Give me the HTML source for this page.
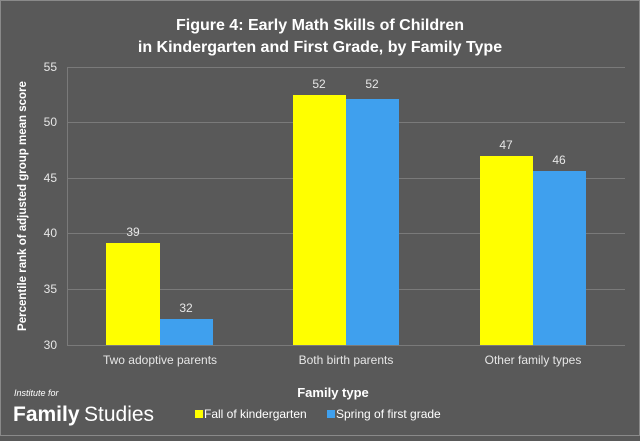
<!DOCTYPE html>
<html><head><style>
body{margin:0;background:#595959;}
svg text{font-family:"Liberation Sans",sans-serif;}
</style></head><body>
<svg width="640" height="436" xmlns="http://www.w3.org/2000/svg">
<rect x="0" y="0" width="640" height="436" fill="#595959"/>
<rect x="0.5" y="0.5" width="639" height="435" fill="none" stroke="#8a8a8a" stroke-width="1"/>
<text x="320" y="30" fill="#fff" font-size="16" font-weight="bold" text-anchor="middle">Figure 4: Early Math Skills of Children</text>
<text x="320" y="52" fill="#fff" font-size="16" font-weight="bold" text-anchor="middle">in Kindergarten and First Grade, by Family Type</text>
<g stroke="#7a7a7a" stroke-width="1">
<line x1="67" y1="67.5" x2="625" y2="67.5"/>
<line x1="67" y1="122.5" x2="625" y2="122.5"/>
<line x1="67" y1="178.5" x2="625" y2="178.5"/>
<line x1="67" y1="233.5" x2="625" y2="233.5"/>
<line x1="67" y1="289.5" x2="625" y2="289.5"/>
<line x1="67" y1="345.5" x2="625" y2="345.5"/>
<line x1="67.5" y1="67" x2="67.5" y2="345"/>
</g>
<g fill="#e6e6e6" font-size="12" text-anchor="end">
<text x="57" y="71">55</text><text x="57" y="126">50</text><text x="57" y="182">45</text>
<text x="57" y="237">40</text><text x="57" y="293">35</text><text x="57" y="349">30</text>
</g>
<text transform="translate(26,206) rotate(-90)" fill="#fff" font-size="11.5" font-weight="bold" text-anchor="middle">Percentile rank of adjusted group mean score</text>
<g>
<rect x="106" y="243" width="54" height="102" fill="#ffff00"/>
<rect x="160" y="319" width="53" height="26" fill="#3fa0ee"/>
<rect x="293" y="95" width="53" height="250" fill="#ffff00"/>
<rect x="346" y="99" width="53" height="246" fill="#3fa0ee"/>
<rect x="480" y="156" width="53" height="189" fill="#ffff00"/>
<rect x="533" y="171" width="53" height="174" fill="#3fa0ee"/>
</g>
<g fill="#e6e6e6" font-size="12" text-anchor="middle">
<text x="133" y="236">39</text><text x="186" y="312">32</text>
<text x="319" y="88">52</text><text x="372" y="88">52</text>
<text x="506" y="149">47</text><text x="559" y="164">46</text>
<text x="160" y="364">Two adoptive parents</text>
<text x="346" y="364">Both birth parents</text>
<text x="533" y="364">Other family types</text>
</g>
<text x="333" y="397" fill="#fff" font-size="13" font-weight="bold" text-anchor="middle">Family type</text>
<text x="14" y="396" fill="#fff" font-size="9" font-style="italic" font-family="Liberation Serif,serif">Institute for</text>
<text x="13" y="421" fill="#fff" font-size="21" font-weight="bold">Family</text>
<text x="84" y="421" fill="#fff" font-size="21">Studies</text>
<rect x="195" y="410" width="8" height="8" fill="#ffff00"/>
<text x="204" y="418" fill="#fff" font-size="12">Fall of kindergarten</text>
<rect x="327" y="410" width="8" height="8" fill="#3fa0ee"/>
<text x="336" y="418" fill="#fff" font-size="12">Spring of first grade</text>
</svg>
</body></html>
